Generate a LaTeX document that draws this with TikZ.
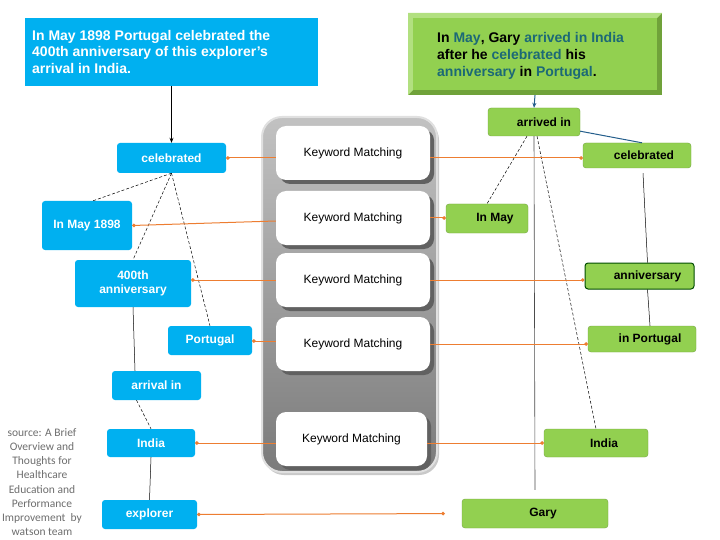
\documentclass[tikz,border=0pt]{standalone}
\usepackage{fontspec}
\setmainfont{Liberation Sans}
\newfontfamily\srcfont{Carlito}
\usetikzlibrary{arrows.meta,shadows,calc}
\definecolor{bl}{RGB}{0,176,240}
\definecolor{gr}{RGB}{146,208,80}
\definecolor{grd}{RGB}{112,162,58}
\definecolor{grl}{RGB}{178,224,128}
\definecolor{org}{RGB}{237,125,49}
\definecolor{tl}{RGB}{28,105,118}
\definecolor{dblue}{RGB}{36,94,140}
\definecolor{srcgray}{RGB}{110,110,110}
\tikzset{
  bnode/.style={fill=bl, rounded corners=3pt, text=white, inner sep=0pt, align=center,
    font=\bfseries\fontsize{12}{14}\selectfont},
  gnode/.style={fill=gr, draw=gr!80!black, line width=0.4pt, rounded corners=3pt, text=black,
    inner sep=0pt, font=\bfseries\fontsize{12}{14}\selectfont},
  kmbox/.style={fill=white, rounded corners=10pt, minimum width=154pt, minimum height=54pt,
    inner sep=0pt, font=\fontsize{12}{14}\selectfont,
    drop shadow={shadow xshift=4pt, shadow yshift=-4pt, fill=black!62, opacity=1}},
  oline/.style={org, line width=1pt, -{Circle[length=3.5pt]}},
  dline/.style={black, line width=0.5pt, dash pattern=on 3pt off 2pt},
  sline/.style={black, line width=0.5pt},
}
\begin{document}
\begin{tikzpicture}[x=1pt,y=-1pt]
\useasboundingbox (0,0) rectangle (720,540);
\fill[white] (0,0) rectangle (720,540);

% ---- left top box
\node[fill=bl, minimum width=293pt, minimum height=68pt, inner sep=0pt] (topL) at (171.5,52) {};
\node[anchor=north west, align=left, inner sep=0pt, text=white,
  font=\bfseries\fontsize{14}{16.5}\selectfont] (topLtext) at (32,30)
  {In May 1898 Portugal celebrated the\\400th anniversary of this explorer’s\\arrival in India.};

% ---- right top box (bevelled)
\node[minimum width=254pt, minimum height=82pt, inner sep=0pt] (topR) at (535,54) {};
\fill[grd] (topR.north west) rectangle (topR.south east);
\fill[grl] (408,13) -- (662,13) -- (657,18) -- (413,18) -- (413,90) -- (408,95) -- cycle;
\fill[gr] (413,18) rectangle (657,90);
\node[anchor=north west, align=left, inner sep=0pt, text=black,
  font=\bfseries\fontsize{14}{17}\selectfont] (topRtext) at (437,32)
  {In \textcolor{tl}{May}, Gary \textcolor{tl}{arrived in India}\\
   after he \textcolor{tl}{celebrated} his\\
   \textcolor{tl}{anniversary} in \textcolor{tl}{Portugal}.};

% ---- central panel
\shade[rounded corners=20pt, top color=black!24, bottom color=black!52, draw=black!12, line width=2pt,
  drop shadow={shadow xshift=2pt, shadow yshift=-3pt, fill=black!35, opacity=0.6}]
  (262,117) rectangle (437,472);
\node[kmbox] (km1) at (353,153) {Keyword Matching};
\node[kmbox] (km2) at (353,218) {Keyword Matching};
\node[kmbox] (km3) at (353,280) {Keyword Matching};
\node[kmbox] (km4) at (353,344) {Keyword Matching};
\node[kmbox, minimum width=151pt] (km5) at (351.5,439) {Keyword Matching};

% ---- left nodes
\node[bnode, minimum width=109pt, minimum height=30pt] (celL) at (171.5,158) {celebrated};
\node[bnode, minimum width=90pt, minimum height=49pt] (mayL) at (87,225.5) {In May 1898};
\node[bnode, minimum width=116pt, minimum height=47pt] (annL) at (133,283.5) {400th\\anniversary};
\node[bnode, minimum width=84pt, minimum height=29pt] (porL) at (210,340.5) {Portugal};
\node[bnode, minimum width=89pt, minimum height=29pt] (arrL) at (156.5,385.5) {arrival in};
\node[bnode, minimum width=88pt, minimum height=28pt] (indL) at (151,443) {India};
\node[bnode, minimum width=95pt, minimum height=29pt] (expL) at (149.5,514.5) {explorer};

% ---- right nodes
\node[gnode, minimum width=92pt, minimum height=28pt] (arrR) at (534,122) {\hspace*{20pt}arrived in};
\node[gnode, minimum width=108pt, minimum height=25pt] (celR) at (637,155.5) {\hspace*{14pt}celebrated};
\node[gnode, minimum width=82pt, minimum height=29pt] (mayR) at (487,218.5) {\hspace*{16pt}In May};
\node[gnode, draw=black!70!green, line width=1pt, minimum width=109pt, minimum height=26pt] (annR) at (639.5,276) {\hspace*{16pt}anniversary};
\node[gnode, minimum width=108pt, minimum height=26pt] (porR) at (642,339) {\hspace*{16pt}in Portugal};
\node[gnode, minimum width=104pt, minimum height=28pt] (indR) at (596,443) {\hspace*{16pt}India};
\node[gnode, minimum width=146pt, minimum height=29pt] (garR) at (535,513.5) {\hspace*{16pt}Gary};

% ---- left connectors
\draw[black, line width=0.8pt, -{Stealth[length=5pt,width=4pt]}] (topL.south) -- (celL.north);
\draw[dline] (celL.south) -- ([xshift=6pt]mayL.north);
\draw[dline] (celL.south) -- (annL.north);
\draw[dline] (celL.south) -- (porL.north);
\draw[sline] (annL.south) -- ([xshift=2pt]annL.south |- arrL.north);
\draw[dline] ([xshift=-20pt]arrL.south) -- (indL.north);
\draw[sline] (indL.south) -- (expL.north);

% ---- right connectors
\draw[dblue, line width=1pt, -{Stealth[length=5pt,width=4pt]}] (topR.south) -- (arrR.north);
\draw[dblue, line width=1pt] ([yshift=5pt]arrR.south east) -- ([xshift=5pt]celR.north);
\draw[sline] ([xshift=6pt,yshift=-5pt]celR.south) -- ([xshift=8pt]annR.north);
\draw[sline] ([xshift=8pt]annR.south) -- ([xshift=8pt]porR.north);
\draw[dline] ([xshift=-7pt]arrR.south) -- (mayR.north);
\draw[black!70, line width=0.6pt] (arrR.south) -- ([yshift=9pt]garR.north);
\draw[dline] ([xshift=3pt]arrR.south) -- (indR.north);

% ---- orange matching lines
\draw[oline] ([yshift=-5pt]km1.west) -- ([yshift=-5pt]km1.west -| celL.east);
\draw[oline] ([yshift=-3pt]km2.west) -- (mayL.east);
\draw[oline] (km3.west) -- (km3.west -| annL.east);
\draw[oline] ([yshift=3pt]km4.west) -- ([yshift=3pt]km4.west -| porL.east);
\draw[oline] ([yshift=-4pt]km5.west) -- ([yshift=-4pt]km5.west -| indL.east);
\draw[oline] ([yshift=-5pt]km1.east) -- ([yshift=-5pt]km1.east -| celR.west);
\draw[oline] (km2.east) -- (km2.east -| mayR.west);
\draw[oline] (km3.east) -- (km3.east -| annR.west);
\draw[oline] (km4.east) -- (km4.east -| porR.west);
\draw[oline] ([yshift=-4pt]km5.east) -- ([yshift=-4pt]km5.east -| indR.west);
\draw[org, line width=1pt, {Circle[length=3.5pt]}-{Circle[length=3.5pt]}, shorten >=17pt] (expL.east) -- (garR.west);

% ---- source note
\node[align=center, inner sep=0pt, text=srcgray, font=\srcfont\fontsize{11.5}{14.2}\selectfont] (src) at (42,482)
  {source: A Brief\\Overview and\\Thoughts for\\Healthcare\\Education and\\Performance\\Improvement\ \ by\\watson team};
\end{tikzpicture}
\end{document}
